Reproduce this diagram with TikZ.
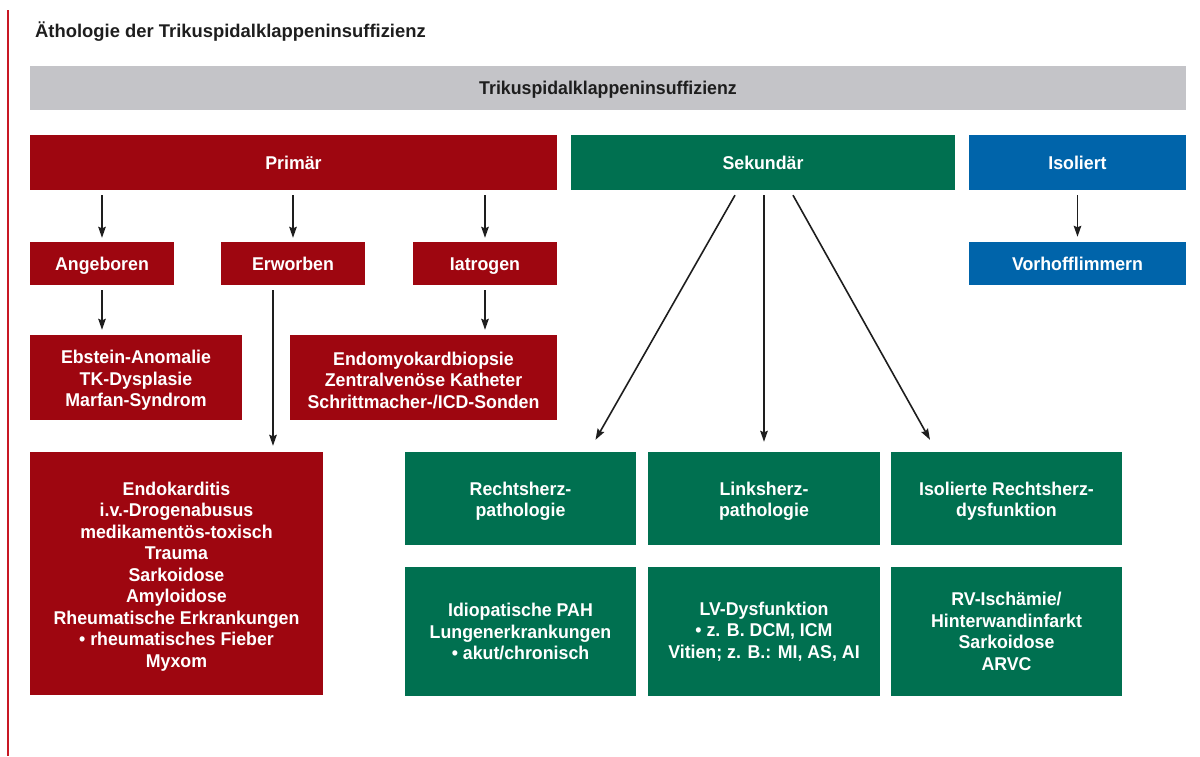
\documentclass[tikz,border=0pt]{standalone}
\usepackage{fontspec}
\setmainfont{Liberation Sans}[FakeStretch=0.96]
\newfontfamily\titlefont{Liberation Sans}[FakeStretch=1.0]
\usetikzlibrary{arrows.meta}
\definecolor{pred}{RGB}{158,6,16}
\definecolor{pgreen}{RGB}{0,112,80}
\definecolor{pblue}{RGB}{0,100,170}
\definecolor{pgray}{RGB}{196,196,200}
\definecolor{pdark}{RGB}{30,30,30}
\definecolor{pline}{RGB}{200,24,36}
\newcommand{\topstrut}{\rule{0pt}{19pt}}
\tikzset{
  box/.style={rectangle, inner sep=0pt, align=center, text=white,
    font=\bfseries\fontsize{18.5}{21.5}\selectfont},
  single/.style={text height=13pt, text depth=0pt},
  redbox/.style={box, fill=pred},
  greenbox/.style={box, fill=pgreen},
  bluebox/.style={box, fill=pblue},
  arr/.style={draw=pdark, line width=1.6pt,
    -{Stealth[length=11pt,width=7.5pt,inset=1.5pt]}},
}
\begin{document}
\begin{tikzpicture}[x=1pt,y=-1pt]
\useasboundingbox (0,0) rectangle (1200,756);
\draw[pline, line width=1.6pt] (8,10) coordinate (lt) -- (8,756) coordinate (lb);
\node[anchor=base west, text=pdark, font=\titlefont\bfseries\fontsize{18.4}{22}\selectfont, inner sep=0pt]
  (title) at (35,37.7) {Äthologie der Trikuspidalklappeninsuffizienz};
\node[box, single, fill=pgray, text=pdark, minimum width=1156pt, minimum height=44pt] (bar) at (608,88) {Trikuspidalklappeninsuffizienz};

\node[redbox, single, minimum width=527pt, minimum height=55pt] (prim) at (293.5,162.5) {Primär};
\node[greenbox, single, minimum width=384pt, minimum height=55pt] (sek) at (763,162.5) {Sekundär};
\node[bluebox, single, minimum width=217pt, minimum height=55pt] (iso) at (1077.5,162.5) {Isoliert};

\node[redbox, single, minimum width=144pt, minimum height=43pt] (ang) at (102,263.5) {Angeboren};
\node[redbox, single, minimum width=144pt, minimum height=43pt] (erw) at (293,263.5) {Erworben};
\node[redbox, single, minimum width=144pt, minimum height=43pt] (iat) at (485,263.5) {Iatrogen};
\node[bluebox, single, minimum width=217pt, minimum height=43pt] (vor) at (1077.5,263.5) {Vorhofflimmern};

\node[redbox, minimum width=212pt, minimum height=85pt] (ebs) at (136,377.5) {\topstrut Ebstein-Anomalie\\TK-Dysplasie\\Marfan-Syndrom};
\node[redbox, minimum width=267pt, minimum height=85pt] (endm) at (423.5,377.5) {\topstrut Endomyokardbiopsie\\Zentralvenöse Katheter\\Schrittmacher-/ICD-Sonden};

\node[redbox, minimum width=293pt, minimum height=243pt] (endk) at (176.5,573.5) {\topstrut Endokarditis\\i.v.-Drogenabusus\\medikamentös-toxisch\\Trauma\\Sarkoidose\\Amyloidose\\Rheumatische Erkrankungen\\• rheumatisches Fieber\\Myxom};

\node[greenbox, minimum width=231pt, minimum height=93pt] (rh) at (520.5,498.5) {\topstrut Rechtsherz-\\pathologie};
\node[greenbox, minimum width=232pt, minimum height=93pt] (lh) at (764,498.5) {\topstrut Linksherz-\\pathologie};
\node[greenbox, minimum width=231pt, minimum height=93pt] (ir) at (1006.5,498.5) {\topstrut Isolierte Rechtsherz-\\dysfunktion};

\node[greenbox, minimum width=231pt, minimum height=129pt] (rh2) at (520.5,631.5) {Idiopatische PAH\\Lungenerkrankungen\\• akut/chronisch};
\node[greenbox, minimum width=232pt, minimum height=129pt] (lh2) at (764,631.5) {LV-Dysfunktion\\• z. B. DCM, ICM\\Vitien; z. B.: MI, AS, AI};
\node[greenbox, minimum width=231pt, minimum height=129pt] (ir2) at (1006.5,631.5) {RV-Ischämie/\\Hinterwandinfarkt\\Sarkoidose\\ARVC};

% arrows
\draw[arr, shorten <=5pt, shorten >=4pt] (prim.south -| ang.north) -- (ang.north);
\draw[arr, shorten <=5pt, shorten >=4pt] (prim.south -| erw.north) -- (erw.north);
\draw[arr, shorten <=5pt, shorten >=4pt] (prim.south -| iat.north) -- (iat.north);
\draw[arr, shorten <=5pt, shorten >=5pt] (iso.south) -- (vor.north);
\draw[arr, shorten <=5pt, shorten >=5pt] (ang.south) -- (ang.south |- ebs.north);
\draw[arr, shorten <=5pt, shorten >=5pt] (iat.south) -- (iat.south |- endm.north);
\draw[arr, shorten <=5pt, shorten >=6pt] ([xshift=-20pt]erw.south) -- ([xshift=-20pt]erw.south |- endk.north);
\draw[arr] ([xshift=-28pt,yshift=-5pt]sek.south) -- ([xshift=75pt,yshift=12pt]rh.north);
\draw[arr] ([xshift=1pt,yshift=-5pt]sek.south) -- ([yshift=10pt]lh.north);
\draw[arr] ([xshift=30pt,yshift=-5pt]sek.south) -- ([xshift=-76.5pt,yshift=12pt]ir.north);
\end{tikzpicture}
\end{document}
